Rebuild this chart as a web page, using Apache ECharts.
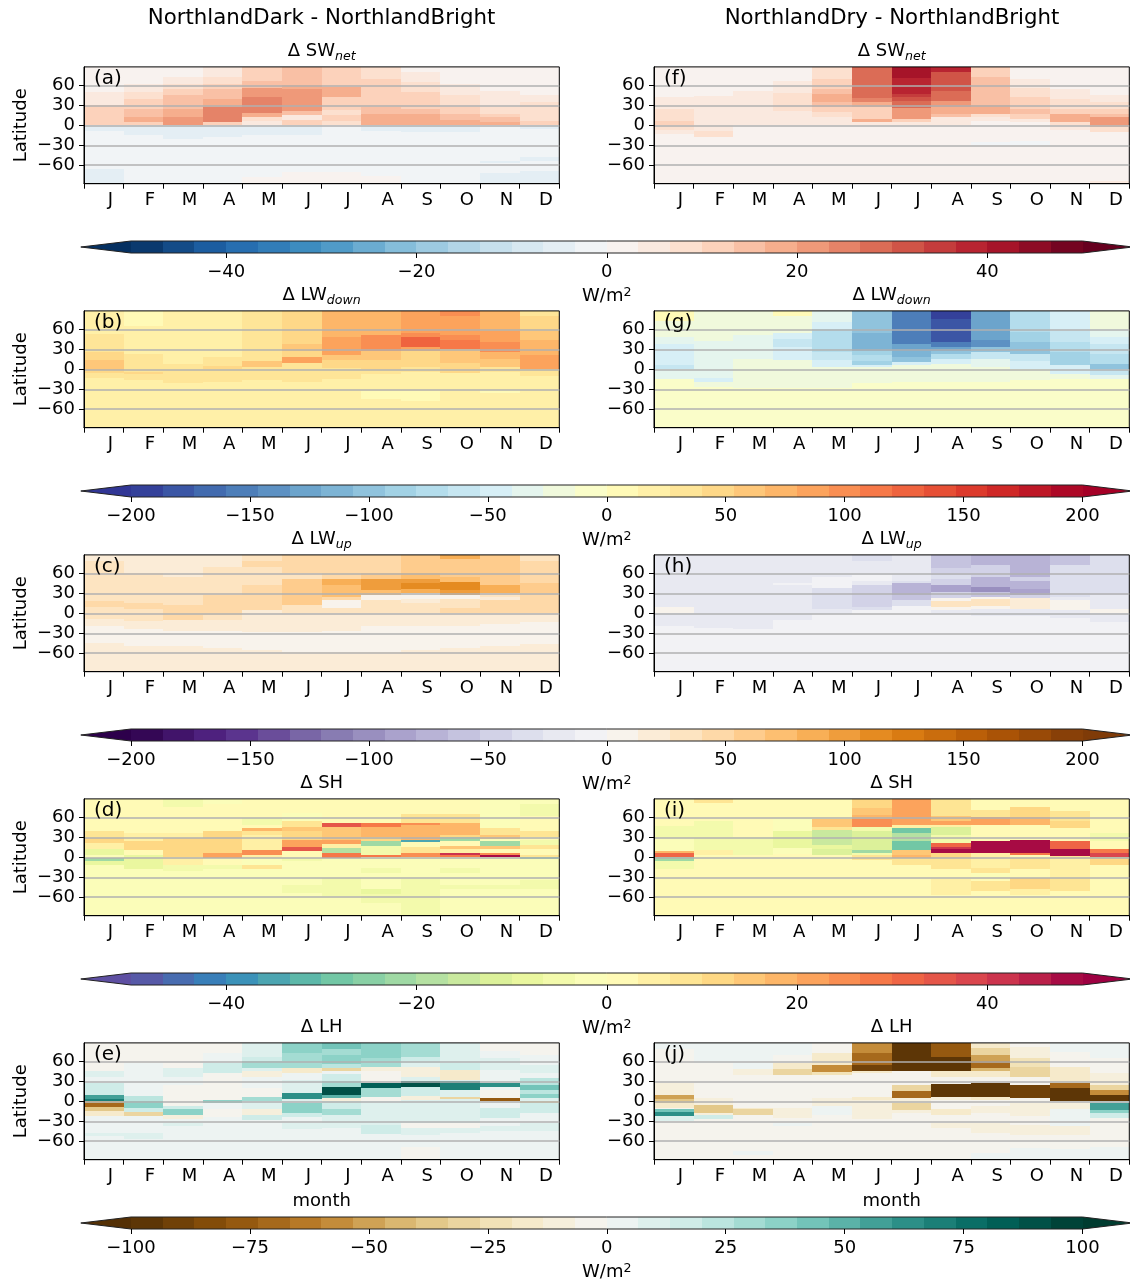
<!DOCTYPE html>
<html><head><meta charset="utf-8">
<style>html,body{margin:0;padding:0;background:#fff}#c{width:1130px;height:1283px}</style>
<script src="https://cdn.jsdelivr.net/npm/echarts@6/dist/echarts.min.js"></script>
</head><body><div id="c"></div>
<script>
const months=['J','F','M','A','M','J','J','A','S','O','N','D'];
const latTicks=[60,30,0,-30,-60];
const latLimit=87.8;
// each month: [upper latitude of band, value] pairs, from north to south
const swDark=[
[[88,2],[50,5],[40,6],[30,10],[1,-5],[-8,-2],[-66,-5]],
[[88,2],[62,5],[50,8],[40,12],[25,15],[12,18],[5,12],[0,-5],[-15,-2]],
[[88,2],[73,5],[62,8],[55,12],[45,15],[25,18],[12,22],[0,-5],[-20,-2]],
[[88,5],[73,8],[62,12],[55,15],[40,18],[28,25],[5,12],[0,-5],[-18,-2]],
[[88,12],[67,15],[56,22],[43,25],[18,18],[12,8],[7,5],[0,-5],[-15,-2],[-78,2]],
[[88,15],[60,18],[55,22],[22,15],[15,5],[8,12],[0,-5],[-15,-2],[-70,2]],
[[88,12],[57,18],[43,12],[23,8],[15,12],[6,8],[0,-2],[-70,2]],
[[88,8],[70,12],[27,15],[17,18],[0,-5],[-8,-2],[-76,2]],
[[88,2],[80,5],[65,8],[50,12],[25,15],[17,18],[0,-5],[-10,-2]],
[[88,2],[62,5],[45,8],[28,12],[17,15],[8,18],[0,-5],[-10,-2]],
[[88,2],[51,5],[28,8],[17,12],[12,15],[5,18],[0,-2],[-53,-5],[-56,-2],[-72,-5]],
[[88,2],[46,5],[35,8],[6,12],[0,-5],[-5,-2],[-47,-5],[-53,-2],[-69,-5]]];
const swDry=[
[[88,2],[43,5],[24,8],[6,12],[0,8],[-7,5],[-13,2]],
[[88,2],[44,5],[-8,8],[-18,2]],
[[88,2],[52,5],[0,2]],
[[88,2],[66,5],[48,8],[22,5],[0,2]],
[[88,8],[70,12],[55,15],[47,18],[35,15],[27,12],[20,8],[12,5],[1,2]],
[[88,28],[41,25],[35,18],[27,12],[10,18],[5,5],[1,2]],
[[88,42],[71,38],[47,35],[42,32],[37,28],[26,22],[9,12],[5,5],[1,2]],
[[88,38],[80,32],[52,28],[37,22],[28,18],[17,15],[12,5],[1,2]],
[[88,12],[73,15],[30,18],[17,8],[12,5],[7,2],[-25,-2],[-29,2]],
[[88,2],[70,5],[56,8],[43,12],[25,15],[17,12],[10,5],[5,2],[-24,-2],[-29,2]],
[[88,2],[55,5],[40,8],[25,12],[17,18],[5,8],[0,5],[-7,2]],
[[88,2],[46,5],[35,8],[25,12],[17,15],[12,22],[1,15],[-3,8],[-10,2],[-83,5]]];
const lwDownDark=[
[[88,20],[53,33],[26,47],[14,60],[-1,47],[-5,33],[-13,20]],
[[88,7],[65,20],[23,33],[-4,47],[-7,33],[-16,20]],
[[88,20],[8,33],[-20,20]],
[[88,20],[18,33],[5,47],[1,33],[-19,20]],
[[88,33],[13,60],[3,33],[-16,20]],
[[88,47],[38,60],[28,47],[18,87],[9,33],[-19,20]],
[[88,73],[48,87],[21,60],[14,47],[2,33],[-14,20]],
[[88,73],[51,100],[28,60],[14,47],[0,33],[-7,20],[-32,7],[-44,20]],
[[88,87],[55,100],[48,127],[34,87],[28,47],[4,33],[-4,20],[-32,7],[-47,20]],
[[88,100],[80,87],[51,100],[44,113],[31,60],[10,47],[-6,20]],
[[88,73],[57,87],[41,100],[26,73],[16,60],[4,33],[-4,20],[-31,7],[-35,20]],
[[88,33],[80,47],[58,60],[44,73],[21,87],[1,33],[-10,20]]];
const lwDownDry=[
[[88,7],[73,-20],[48,-33],[38,-47],[6,-60],[1,-33],[-14,-7]],
[[88,-20],[42,-33],[-13,-47],[-19,-20],[-27,-7]],
[[88,-20],[51,-33],[16,-20],[-28,-7]],
[[88,7],[80,-20],[55,-47],[46,-60],[34,-47],[14,-20],[-28,-7]],
[[88,-33],[71,-47],[61,-73],[26,-60],[14,-47],[3,-20],[-28,-7]],
[[88,-100],[54,-113],[28,-87],[21,-73],[12,-87],[6,-47],[3,-20],[-21,-7]],
[[88,-153],[38,-127],[28,-113],[19,-100],[11,-47],[6,-20],[-19,-7]],
[[88,-193],[76,-180],[41,-153],[34,-127],[28,-100],[23,-73],[16,-47],[8,-20],[-19,-7]],
[[88,-127],[44,-140],[33,-100],[26,-60],[16,-33],[3,-20],[-19,-7]],
[[88,-73],[56,-87],[41,-100],[23,-60],[13,-47],[1,-20],[-16,-7]],
[[88,-47],[58,-60],[41,-73],[26,-87],[6,-47],[-7,-20],[-14,-7]],
[[88,-20],[61,-33],[48,-47],[38,-60],[23,-73],[8,-100],[1,-60],[-9,-33],[-15,-7]]];
const lwUpDark=[
[[88,20],[78,33],[18,47],[10,33],[-8,20],[-19,7],[-45,20]],
[[88,20],[60,33],[15,47],[7,33],[-12,20],[-24,7],[-49,20]],
[[88,20],[55,33],[12,47],[-10,20],[-27,7],[-49,20]],
[[88,20],[70,33],[27,47],[-3,33],[-10,20],[-27,7],[-52,20]],
[[88,33],[78,47],[69,33],[43,47],[5,20],[-28,7],[-55,20]],
[[88,47],[60,33],[52,60],[12,33],[0,20],[-28,7],[-58,20]],
[[88,47],[52,87],[42,73],[25,47],[20,7],[8,33],[0,20],[-26,7],[-58,20]],
[[88,47],[61,60],[52,100],[35,73],[27,7],[20,33],[0,20],[-19,7],[-58,20]],
[[88,60],[61,73],[52,100],[45,113],[37,87],[30,7],[22,20],[15,33],[0,20],[-19,7],[-55,20]],
[[88,87],[81,60],[55,73],[47,113],[35,100],[28,7],[22,33],[8,47],[0,20],[-19,7],[-52,20]],
[[88,60],[42,87],[30,33],[25,20],[20,47],[0,20],[-16,7],[-49,20]],
[[88,33],[79,47],[46,60],[30,47],[0,20],[-13,7],[-46,20]]];
const lwUpDry=[
[[88,-20],[10,7],[0,-20],[-19,-7]],
[[88,-20],[-22,-7]],
[[88,-20],[-24,-7]],
[[88,-20],[46,-7],[42,-20],[-10,-7]],
[[88,-20],[55,-7],[38,-33],[6,-20],[-1,-7]],
[[88,-33],[79,-20],[57,-7],[48,-20],[43,-47],[10,-33],[5,-7]],
[[88,-20],[48,-33],[45,-73],[27,-60],[20,-33],[11,-7]],
[[88,-60],[68,-47],[58,-33],[52,-47],[43,-87],[32,-47],[23,7],[18,33],[10,7],[5,-20],[0,-7]],
[[88,-73],[72,-47],[55,-73],[40,-100],[32,-60],[25,7],[21,33],[11,7],[6,-20],[-4,-7]],
[[88,-73],[55,-47],[48,-73],[37,-87],[28,-47],[23,20],[6,-20],[-4,-7]],
[[88,-60],[72,-33],[25,-20],[20,7],[5,-20],[-7,-7]],
[[88,-33],[28,-20],[6,7],[0,-20],[-13,-7]]];
const shDark=[
[[88,2],[39,8],[29,12],[21,5],[12,-8],[4,-2],[-1,-22],[-6,-8],[-11,-2]],
[[88,2],[36,5],[24,12],[11,2],[4,-8],[-18,-2]],
[[88,-5],[76,2],[36,5],[29,12],[1,5],[-11,-5],[-21,-2]],
[[88,-2],[80,2],[39,12],[6,22],[-1,2],[-11,-5],[-18,-2]],
[[88,2],[59,-5],[49,2],[44,18],[39,8],[34,5],[11,25],[4,5],[-1,-2],[-12,8],[-18,-2]],
[[88,2],[66,-2],[54,8],[46,15],[39,12],[26,22],[16,35],[10,2],[-1,-5],[-6,-2],[-41,-5],[-54,-2]],
[[88,2],[51,35],[45,15],[26,22],[20,5],[14,-18],[7,28],[-1,-2],[-31,-5],[-58,-2]],
[[88,2],[52,28],[45,18],[31,12],[24,-22],[17,-5],[4,28],[0,-2],[-16,-5],[-24,-2],[-48,-8],[-55,-5],[-68,-2]],
[[88,2],[65,8],[52,25],[48,18],[26,-35],[23,2],[16,8],[7,25],[0,-2],[-33,-5]],
[[88,2],[65,8],[52,18],[33,12],[31,-22],[24,2],[17,15],[12,5],[7,42],[4,28],[0,-2],[-16,-5],[-24,-2],[-41,-5],[-48,-2]],
[[88,-2],[44,8],[34,15],[27,-2],[24,-22],[17,15],[12,2],[6,25],[4,48],[0,-2],[-41,-5],[-48,-2]],
[[88,-2],[80,-5],[62,2],[39,8],[31,2],[26,-5],[19,8],[12,2],[4,8],[1,-25],[-2,-2],[-34,-5],[-48,-2]]];
const shDry=[
[[88,2],[47,-5],[29,-2],[10,18],[6,32],[1,-22],[-6,-5],[-18,2]],
[[88,8],[82,2],[54,-5],[11,5],[4,2]],
[[88,2],[31,-5],[4,2]],
[[88,2],[59,-2],[40,-8],[14,-2],[5,2]],
[[88,2],[57,15],[46,8],[41,-15],[19,-8],[12,-12],[4,2]],
[[88,12],[74,15],[64,18],[57,25],[46,-5],[39,-12],[11,-22],[6,-5],[4,8],[-4,2]],
[[88,22],[49,5],[44,-28],[36,-18],[24,-28],[11,15],[4,18],[-1,8],[-11,2]],
[[88,8],[62,15],[54,22],[49,5],[45,-12],[34,-5],[21,32],[16,42],[12,48],[6,12],[-1,8],[-18,2],[-33,5],[-57,2]],
[[88,2],[71,8],[61,22],[49,2],[24,48],[7,5],[-16,8],[-24,-2],[-30,2],[-36,8],[-51,2]],
[[88,2],[76,12],[61,18],[49,2],[26,48],[7,28],[4,2],[-1,8],[-18,2],[-31,12],[-47,5],[-56,2]],
[[88,2],[69,8],[54,12],[44,2],[24,32],[12,48],[2,8],[-3,5],[-31,8],[-51,2]],
[[88,2],[36,-5],[24,2],[12,28],[6,38],[1,-15],[-1,12],[-11,2]]];
const lhDark=[
[[88,-3],[46,10],[37,3],[27,17],[10,57],[4,70],[0,-50],[-3,-70],[-8,-37],[-15,-17],[-22,3],[-47,10],[-52,3]],
[[88,-3],[57,3],[8,23],[0,37],[-10,17],[-16,-30],[-22,3],[-47,10],[-57,3]],
[[88,-3],[50,10],[37,3],[25,-3],[-7,17],[-12,37],[-20,-10],[-27,3],[-32,10],[-37,3]],
[[88,-3],[72,3],[57,17],[42,-3],[2,37],[-3,3],[-12,-3],[-24,3]],
[[88,10],[67,17],[61,30],[50,10],[46,-10],[37,3],[20,-3],[7,30],[0,10],[-11,-10],[-20,17],[-28,3]],
[[88,37],[72,30],[50,-17],[42,3],[32,10],[12,63],[4,10],[-2,37],[-18,17],[-23,3],[-32,10],[-41,3]],
[[88,43],[79,30],[69,37],[56,23],[50,-30],[46,3],[41,17],[30,30],[22,90],[9,50],[5,-10],[1,17],[-12,30],[-20,10],[-40,3]],
[[88,37],[65,30],[52,-10],[46,-3],[27,83],[20,30],[7,-3],[0,10],[-35,17],[-49,3]],
[[88,30],[66,17],[57,10],[51,-10],[37,10],[30,90],[22,17],[8,-10],[2,10],[-32,-3],[-40,10],[-50,3],[-69,-3]],
[[88,10],[57,17],[47,-17],[32,10],[30,70],[17,10],[7,-30],[4,10],[-32,-3],[-40,10],[-47,3]],
[[88,-3],[76,3],[65,10],[47,3],[27,63],[22,3],[17,-3],[5,-77],[1,3],[-10,17],[-25,3],[-37,10],[-44,3]],
[[88,-3],[70,3],[54,10],[42,3],[35,23],[25,43],[17,23],[11,37],[5,10],[1,-30],[-2,17],[-17,3],[-32,10],[-44,3]]];
const lhDry=[
[[88,3],[79,-3],[27,-10],[10,-50],[3,-37],[-2,-17],[-10,-3],[-12,43],[-16,63],[-22,10],[-29,-3]],
[[88,3],[57,-3],[5,-10],[-5,-37],[-17,-10],[-21,17],[-27,-3]],
[[88,3],[48,-10],[40,-3],[-10,-17],[-12,-30],[-21,-3],[-74,3],[-80,-3]],
[[88,3],[70,-3],[57,-17],[49,-30],[39,-3],[-10,-10],[-25,-3],[-33,3],[-37,-3]],
[[88,-3],[72,-17],[55,-57],[44,-23],[40,-3],[5,-10],[-7,3],[-21,-3]],
[[88,-57],[72,-70],[54,-90],[46,-17],[42,-3],[7,-17],[2,-10],[-27,-3]],
[[88,-97],[46,-3],[25,-30],[15,-70],[5,-10],[-3,-30],[-13,-10],[-17,-3]],
[[88,-77],[67,-97],[46,-17],[37,-3],[26,-97],[7,-10],[2,-3],[-12,-17],[-21,-3],[-32,-10],[-40,-3]],
[[88,-17],[80,-30],[70,-50],[60,-70],[50,-43],[46,-17],[37,-3],[27,-97],[7,-17],[2,-3],[-7,-10],[-17,-3],[-32,-10],[-47,-3],[-77,3]],
[[88,-3],[81,-10],[65,-23],[52,-30],[37,-3],[25,-90],[5,-3],[-2,-10],[-22,-3],[-35,-10],[-50,-3],[-70,3]],
[[88,3],[74,-3],[51,-17],[27,-70],[20,-97],[1,-3],[-3,-10],[-12,3],[-37,-10],[-50,-3],[-72,3]],
[[88,3],[65,-3],[42,-10],[25,-30],[17,-57],[10,-97],[1,17],[-3,57],[-13,37],[-18,17],[-25,-3],[-69,3]]];

const rdBu=['#053061','#2166ac','#4393c3','#92c5de','#d1e5f0','#f7f7f7','#fddbc7','#f4a582','#d6604d','#b2182b','#67001f'];
const rdYlBu=['#313695','#4575b4','#74add1','#abd9e9','#e0f3f8','#ffffbf','#fee090','#fdae61','#f46d43','#d73027','#a50026'];
const puOr=['#2d004b','#542788','#8073ac','#b2abd2','#d8daeb','#f7f7f7','#fee0b6','#fdb863','#e08214','#b35806','#7f3b08'];
const spectral=['#5e4fa2','#3288bd','#66c2a5','#abdda4','#e6f598','#ffffbf','#fee08b','#fdae61','#f46d43','#d53e4f','#9e0142'];
const brBG=['#543005','#8c510a','#bf812d','#dfc27d','#f6e8c3','#f5f5f5','#c7eae5','#80cdc1','#35978f','#01665e','#003c30'];

const levelCount=30;
const FONT='"DejaVu Sans"';
const TICK=18;
function hex(c){return [1,3,5].map(i=>parseInt(c.substr(i,2),16));}
function sample(map,t){const p=Math.max(0,Math.min(1,t))*(map.length-1),i=Math.min(Math.floor(p),map.length-2),f=p-i,a=hex(map[i]),b=hex(map[i+1]);
  return 'rgb('+a.map((v,k)=>Math.round(v+(b[k]-v)*f)).join(',')+')';}
function colourOf(map,lim,v){const i=Math.max(0,Math.min(levelCount-1,Math.floor((v+lim)/(2*lim)*levelCount)));return sample(map,(i+.5)/levelCount);}
const minus=v=>String(v).replace('-','\u2212');

const rows=[
 {title:'SW',sub:'net',lim:50,step:20,map:rdBu,l:swDark,r:swDry,tags:['(a)','(f)']},
 {title:'LW',sub:'down',lim:200,step:50,map:rdYlBu,l:lwDownDark,r:lwDownDry,tags:['(b)','(g)']},
 {title:'LW',sub:'up',lim:200,step:50,map:puOr,l:lwUpDark,r:lwUpDry,tags:['(c)','(h)']},
 {title:'SH',sub:'',lim:50,step:20,map:spectral,l:shDark,r:shDry,tags:['(d)','(i)']},
 {title:'LH',sub:'',lim:100,step:25,map:brBG,l:lhDark,r:lhDry,tags:['(e)','(j)']}];

const opt={animation:false,backgroundColor:'#fff',textStyle:{fontFamily:FONT},grid:[],xAxis:[],yAxis:[],series:[],title:[]};
const colX=[84,654], colW=475.3, rowH=116.8;
const sub={fontFamily:FONT,fontSize:12.6,fontStyle:'italic',color:'#000',verticalAlign:'bottom',padding:[0,0,-3,0]};
const big={fontFamily:FONT,fontSize:TICK,color:'#000',verticalAlign:'bottom'};
function addText(text,left,top,size,align,rich){opt.title.push({text,left,top,textAlign:align||'center',padding:0,z:20,textStyle:{fontFamily:FONT,fontSize:size,fontWeight:'normal',color:'#000',rich:rich}});}
addText('NorthlandDark - NorthlandBright',321.5,8,21.3);
addText('NorthlandDry - NorthlandBright',892,8,21.3);

rows.forEach((row,ri)=>{
  const top=66.9+244*ri;
  [row.l,row.r].forEach((panel,ci)=>{
    const g=opt.grid.length;
    opt.grid.push({left:colX[ci],top,width:colW,height:rowH,show:true,borderColor:'#000',borderWidth:1,backgroundColor:'transparent',z:10});
    opt.xAxis.push({type:'category',gridIndex:g,data:months,boundaryGap:true,position:'bottom',z:10,
      name:ri===4?'month':'',nameLocation:'middle',nameGap:33,nameTextStyle:{fontFamily:FONT,fontSize:TICK,color:'#000'},
      axisLine:{show:true,onZero:false,lineStyle:{color:'#000',width:1}},axisTick:{show:true,alignWithLabel:false,interval:0,length:5,lineStyle:{color:'#000',width:1}},
      axisLabel:{show:true,interval:0,fontFamily:FONT,fontSize:TICK,color:'#000',margin:8,padding:[0,0,0,13]},splitLine:{show:false}});
    opt.yAxis.push({type:'value',gridIndex:g,min:-latLimit,max:latLimit,z:10,
      name:ci===0?'Latitude':'',nameLocation:'middle',nameGap:54,nameRotate:90,nameTextStyle:{fontFamily:FONT,fontSize:TICK,color:'#000'},
      axisLine:{show:true,onZero:false,lineStyle:{color:'#000',width:1}},
      axisTick:{show:true,length:5,customValues:latTicks,lineStyle:{color:'#000',width:1}},
      axisLabel:{show:true,customValues:latTicks,fontFamily:FONT,fontSize:TICK,color:'#000',margin:9,formatter:minus},
      splitLine:{show:true,lineStyle:{color:'#b0b0b0',width:1.5}}});
    const cells=[];
    panel.forEach((bands,m)=>bands.forEach((b,i)=>{
      const next=i+1<bands.length?bands[i+1][0]:-latLimit;
      cells.push([m,Math.min(b[0],latLimit),next,b[1]]);}));
    opt.series.push({type:'custom',xAxisIndex:g,yAxisIndex:g,data:cells,encode:{x:0,y:[1,2]},clip:true,silent:true,
      renderItem(p,api){const m=api.value(0),a=api.coord([m,api.value(1)]),b=api.coord([m,api.value(2)]),w=api.size([1,0])[0];
        const x0=Math.round(a[0]-w/2),x1=Math.round(a[0]+w/2),y0=Math.round(a[1]),y1=Math.round(b[1]);
        return {type:'rect',shape:{x:x0,y:y0,width:x1-x0,height:y1-y0},style:{fill:colourOf(row.map,row.lim,api.value(3))}};}});
    const cx=colX[ci]+colW/2;
    const t=row.sub?'{b|\u0394 '+row.title+'}{s|'+row.sub+'}':'{b|\u0394 '+row.title+'}';
    addText(t,cx,top-25,TICK,'center',{b:big,s:sub});
    addText(row.tags[ci],colX[ci]+10,top+2,20,'left');
  });
  // colour bar
  const g=opt.grid.length, barTop=241+244*ri, lim=row.lim;
  const ticks=[];for(let v=-Math.floor(lim/row.step)*row.step;v<=lim;v+=row.step)ticks.push(v);
  opt.grid.push({left:131,top:barTop,width:951.5,height:12,show:false});
  opt.xAxis.push({type:'value',gridIndex:g,min:-lim,max:lim,z:10,
    name:'{b|W/m}{s|2}',nameLocation:'middle',nameGap:33,nameTextStyle:{fontFamily:FONT,fontSize:TICK,color:'#000',rich:{
      b:{fontFamily:FONT,fontSize:TICK,color:'#000',verticalAlign:'bottom'},s:{fontFamily:FONT,fontSize:12.6,color:'#000',verticalAlign:'bottom',padding:[0,0,6,0]}}},
    axisLine:{show:false,onZero:false},axisTick:{show:true,length:5,customValues:ticks,lineStyle:{color:'#000',width:1}},
    axisLabel:{show:true,customValues:ticks,fontFamily:FONT,fontSize:TICK,color:'#000',margin:10,formatter:minus},splitLine:{show:false}});
  opt.yAxis.push({type:'value',gridIndex:g,min:0,max:1,show:false});
  const cells=[];
  for(let i=0;i<levelCount;i++)cells.push([-lim+2*lim*i/levelCount,-lim+2*lim*(i+1)/levelCount]);
  const ext=lim*0.1055;
  opt.series.push({type:'custom',xAxisIndex:g,yAxisIndex:g,data:cells,encode:{x:[0,1]},clip:false,silent:true,
    renderItem(p,api){const a=api.coord([api.value(0),1]),b=api.coord([api.value(1),0]);
      const x0=Math.round(a[0]),x1=Math.round(b[0]);
      const kids=[{type:'rect',shape:{x:x0,y:a[1],width:x1-x0,height:b[1]-a[1]},style:{fill:sample(row.map,(p.dataIndex+.5)/levelCount)}}];
      if(p.dataIndex===0){const t=api.coord([-lim-ext,.5]);kids.push({type:'polygon',shape:{points:[[x0,a[1]],[x0,b[1]],t]},style:{fill:sample(row.map,0)}});}
      if(p.dataIndex===levelCount-1){const t=api.coord([lim+ext,.5]);kids.push({type:'polygon',shape:{points:[[x1,a[1]],[x1,b[1]],t]},style:{fill:sample(row.map,1)}});}
      return {type:'group',children:kids};}});
  // colour bar outline, drawn last so it sits over all levels
  opt.series.push({type:'custom',xAxisIndex:g,yAxisIndex:g,data:[[-lim,lim]],encode:{x:[0,1]},clip:false,silent:true,z:3,
    renderItem(p,api){const L=api.coord([-lim,1]),R=api.coord([lim,0]),l=api.coord([-lim-ext,.5]),t=api.coord([lim+ext,.5]);
      return {type:'polygon',shape:{points:[[L[0],L[1]],[R[0],L[1]],t,[R[0],R[1]],[L[0],R[1]],l]},style:{fill:'none',stroke:'#222',lineWidth:1}};}});
});
const chart=echarts.init(document.getElementById('c'),null,{renderer:'canvas',width:1130,height:1283});
chart.setOption(opt);
</script></body></html>
